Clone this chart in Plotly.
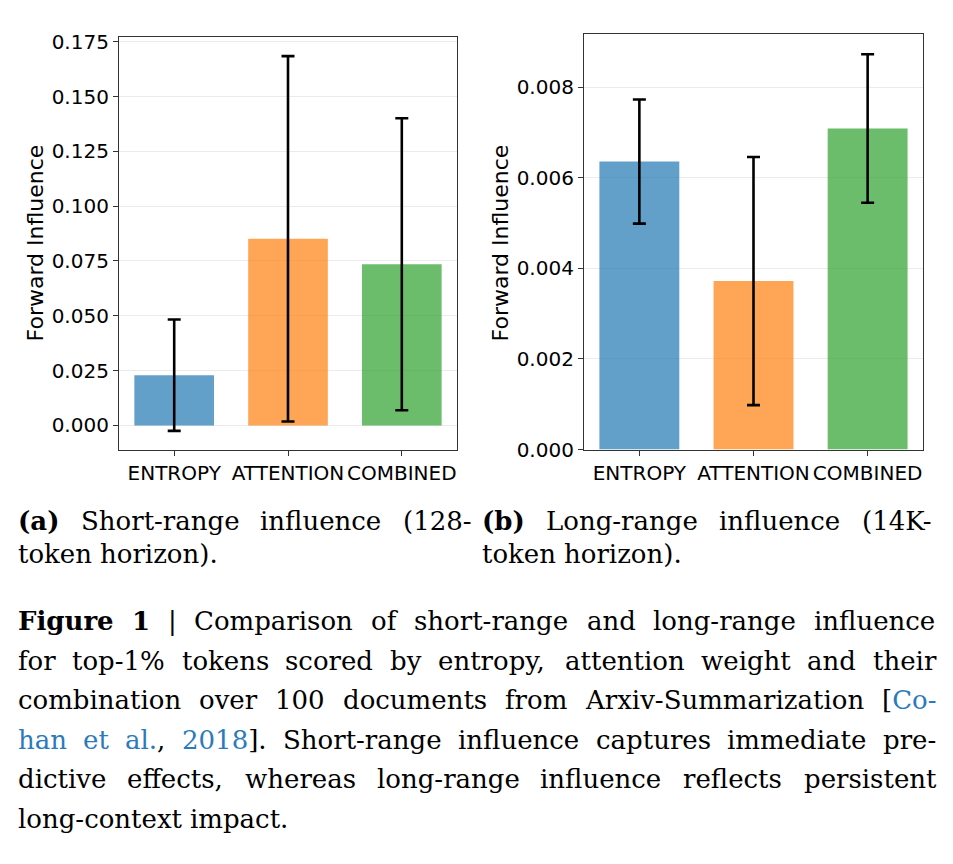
import glob
import struct
import plotly.graph_objects as go

# ---------------- data ----------------
categories = ["ENTROPY", "ATTENTION", "COMBINED"]
short_mean = [0.0229, 0.0851, 0.0735]
short_err = [0.0254, 0.0833, 0.0666]
long_mean = [0.00636, 0.00372, 0.00709]
long_err = [0.00137, 0.00274, 0.00164]
short_ticks = [0.0, 0.025, 0.05, 0.075, 0.1, 0.125, 0.15, 0.175]
long_ticks = [0.0, 0.002, 0.004, 0.006, 0.008]
bar_colors = ["rgba(31,119,180,0.7)", "rgba(255,127,14,0.7)", "rgba(44,160,44,0.7)"]

W, H = 953, 864
FONT = "DejaVu Sans"
SERIF = "DejaVu Serif"
FRAME = "#333333"
BLUE = "#2b7bba"
CAP = 26


# ---------- font metrics (for justified caption lines) ----------
def load_metrics(name):
    paths = glob.glob("/usr/share/fonts/**/" + name, recursive=True) + \
        glob.glob("/usr/local/share/fonts/**/" + name, recursive=True)
    if not paths:
        return None
    data = open(paths[0], "rb").read()
    num = struct.unpack(">H", data[4:6])[0]
    tables = {}
    for i in range(num):
        off = 12 + 16 * i
        tag = data[off:off + 4].decode("latin1")
        _, toff, tlen = struct.unpack(">III", data[off + 4:off + 16])
        tables[tag] = toff
    head = tables["head"]
    upem = struct.unpack(">H", data[head + 18:head + 20])[0]
    hhea = tables["hhea"]
    nhm = struct.unpack(">H", data[hhea + 34:hhea + 36])[0]
    hm = tables["hmtx"]
    adv = [struct.unpack(">H", data[hm + 4 * i:hm + 4 * i + 2])[0] for i in range(nhm)]
    cm = tables["cmap"]
    nsub = struct.unpack(">H", data[cm + 2:cm + 4])[0]
    sub = None
    for i in range(nsub):
        pid, eid, soff = struct.unpack(">HHI", data[cm + 4 + 8 * i:cm + 12 + 8 * i])
        fmt = struct.unpack(">H", data[cm + soff:cm + soff + 2])[0]
        if pid == 3 and eid == 1 and fmt == 4:
            sub = cm + soff
    if sub is None:
        return None
    segx2 = struct.unpack(">H", data[sub + 6:sub + 8])[0]
    seg = segx2 // 2
    ends = struct.unpack(">%dH" % seg, data[sub + 14:sub + 14 + segx2])
    so = sub + 16 + segx2
    starts = struct.unpack(">%dH" % seg, data[so:so + segx2])
    do = so + segx2
    deltas = struct.unpack(">%dh" % seg, data[do:do + segx2])
    ro = do + segx2
    ros = struct.unpack(">%dH" % seg, data[ro:ro + segx2])

    def glyph(code):
        for i in range(seg):
            if code <= ends[i]:
                if code < starts[i]:
                    return 0
                if ros[i] == 0:
                    return (code + deltas[i]) & 0xFFFF
                addr = ro + 2 * i + ros[i] + 2 * (code - starts[i])
                g = struct.unpack(">H", data[addr:addr + 2])[0]
                return (g + deltas[i]) & 0xFFFF if g else 0
        return 0

    def width(s, size):
        tot = 0
        for ch in s:
            g = glyph(ord(ch))
            tot += adv[g] if g < nhm else adv[-1]
        return tot * size / upem
    return width


w_reg = load_metrics("DejaVuSerif.ttf")
w_bold = load_metrics("DejaVuSerif-Bold.ttf")
if w_reg is None:
    w_reg = lambda s, size: len(s) * 0.6 * size
if w_bold is None:
    w_bold = lambda s, size: len(s) * 0.66 * size


def seg_width(parts):
    tot = 0
    for t, st in parts:
        tot += (w_bold if st == "b" else w_reg)(t, CAP)
    return tot


def seg_html(parts):
    out = ""
    for t, st in parts:
        if st == "b":
            out += "<b>%s</b>" % t
        elif st == "blue":
            out += "<span style='color:%s'>%s</span>" % (BLUE, t)
        else:
            out += t
    return out


def P(*words):
    # each word: plain str, or list of (text, style)
    return [[(w, "")] if isinstance(w, str) else w for w in words]


fig = go.Figure()
fig.add_trace(go.Bar(
    x=categories, y=short_mean, marker=dict(color=bar_colors, line=dict(width=0)),
    error_y=dict(type="data", array=short_err, visible=True, color="black", thickness=2.6, width=6.5),
    xaxis="x", yaxis="y", showlegend=False))
fig.add_trace(go.Bar(
    x=categories, y=long_mean, marker=dict(color=bar_colors, line=dict(width=0)),
    error_y=dict(type="data", array=long_err, visible=True, color="black", thickness=2.6, width=6.5),
    xaxis="x2", yaxis="y2", showlegend=False))


def px(x):
    return x / W


def py(y):
    return 1 - y / H


axis_common = dict(showline=True, linecolor=FRAME, linewidth=1.2, mirror=True,
                   ticks="outside", ticklen=5, tickwidth=1.2, tickcolor=FRAME,
                   tickfont=dict(family=FONT, size=20, color="black"), zeroline=False)

fig.update_layout(
    width=W, height=H, margin=dict(l=0, r=0, t=0, b=0),
    paper_bgcolor="white", plot_bgcolor="white", bargap=0.3,
    xaxis=dict(domain=[px(119), px(457)], anchor="y", range=[-0.485, 2.485],
               showgrid=False, **axis_common),
    yaxis=dict(domain=[py(452), py(30)], anchor="x", range=[-0.0110, 0.1770],
               tickvals=short_ticks, tickformat=".3f", showgrid=True,
               gridcolor="#ebebeb", gridwidth=1, **axis_common),
    xaxis2=dict(domain=[px(584), px(923)], anchor="y2", range=[-0.485, 2.485],
                showgrid=False, **axis_common),
    yaxis2=dict(domain=[py(452), py(27)], anchor="x2", range=[0, 0.00917],
                tickvals=long_ticks, tickformat=".3f", showgrid=True,
                gridcolor="#ebebeb", gridwidth=1, **axis_common),
)

ann = []
for xc in (35, 500):
    ann.append(dict(text="Forward Influence", x=px(xc), y=py(241), xref="paper", yref="paper",
                    textangle=-90, showarrow=False, xanchor="center", yanchor="middle",
                    font=dict(family=FONT, size=22, color="black")))

BASE_SHIFT = 0.346 * CAP  # annotation centre sits this far above the text baseline


def add_word(html, x, baseline):
    ann.append(dict(text=html, x=px(x), y=py(baseline - BASE_SHIFT), xref="paper", yref="paper",
                    showarrow=False, xanchor="left", yanchor="middle",
                    font=dict(family=SERIF, size=CAP, color="black")))


def set_line(words, x0, x1, baseline, justify=True):
    widths = [seg_width(w) for w in words]
    if justify and len(words) > 1:
        gap = (x1 - x0 - sum(widths)) / (len(words) - 1)
    else:
        gap = w_reg(" ", CAP)
    x = x0
    for w, wd in zip(words, widths):
        add_word(seg_html(w), x, baseline)
        x += wd + gap


# sub-captions
set_line(P([("(a)", "b")], "Short-range", "influence", "(128-"), 16, 470, 534)
set_line(P("token", "horizon)."), 16, 470, 568, justify=False)
set_line(P([("(b)", "b")], "Long-range", "influence", "(14K-"), 480, 931, 534)
set_line(P("token", "horizon)."), 480, 931, 568, justify=False)

# figure caption
L, R = 16, 934
cap_lines = [
    P([("Figure", "b")], [("1", "b")], "|", "Comparison", "of", "short-range", "and",
      "long-range", "influence"),
    P("for", "top-1%", "tokens", "scored", "by", "entropy,", "attention", "weight", "and", "their"),
    P("combination", "over", "100", "documents", "from", "Arxiv-Summarization",
      [("[", ""), ("Co-", "blue")]),
    P([("han", "blue")], [("et", "blue")], [("al.", "blue"), (",", "")], [("2018", "blue"), ("].", "")],
      "Short-range", "influence", "captures", "immediate", "pre-"),
    P("dictive", "effects,", "whereas", "long-range", "influence", "reflects", "persistent"),
    P("long-context", "impact."),
]
baselines = [637, 677, 717, 758, 798, 839]
for i, (words, b) in enumerate(zip(cap_lines, baselines)):
    set_line(words, L, R, b, justify=(i < len(cap_lines) - 1))

fig.update_layout(annotations=ann)
fig.write_html("out.html")
